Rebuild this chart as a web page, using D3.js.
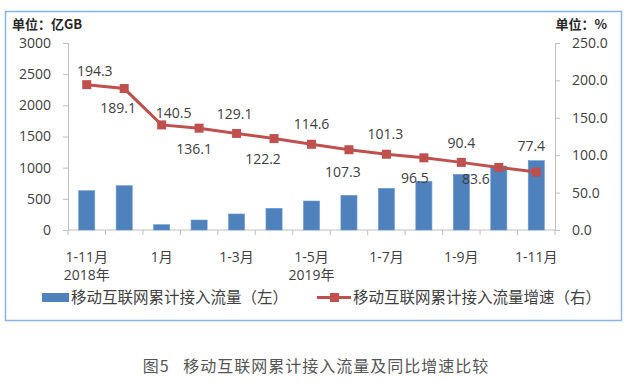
<!DOCTYPE html>
<html><head><meta charset="utf-8">
<script src="https://cdn.jsdelivr.net/npm/d3@7"></script>
<style>
html,body{margin:0;padding:0;background:#fff;}
svg{display:block;}
text{font-family:"Open Sans","Noto Sans CJK SC",sans-serif;fill:#404040;}
.cjk{font-family:"Noto Sans CJK SC",sans-serif;}
</style></head>
<body>
<script>
// ---- data ----
const categories = ["2018年1-11月","2018年1-12月","1月","1-2月","1-3月","1-4月","1-5月","1-6月","1-7月","1-8月","1-9月","1-10月","1-11月"];
const tickLabels = ["1-11月","","1月","","1-3月","","1-5月","","1-7月","","1-9月","","1-11月"];
const yearLabels = ["2018年","","","","","","2019年","","","","","",""];
const trafficValues = [630, 711, 85, 160, 257, 348, 465, 556, 669, 781, 893, 1027, 1112];
const growthValues = [194.3, 189.1, 140.5, 136.1, 129.1, 122.2, 114.6, 107.3, 101.3, 96.5, 90.4, 83.6, 77.4];
const seriesNames = ["移动互联网累计接入流量（左）","移动互联网累计接入流量增速（右）"];
// label nudges (layout only)
const labelDx = [8, -6, 12, -5, -2, -11, 0, -6, -1, -9, 0, -23, -5];
const labelDy = [-14, 19, -12, 21, -19, 20, -20, 22, -20, 20, -19, 12, -26];

const W = 628, H = 382;
const svg = d3.select("body").append("svg").attr("width", W).attr("height", H);
svg.append("rect").attr("width", W).attr("height", H).attr("fill", "#fff");
svg.append("rect").attr("x", 5.5).attr("y", 11.5).attr("width", 616).attr("height", 309)
  .attr("fill", "none").attr("stroke", "#8db3e2").attr("stroke-width", 1.5);

const pLeft = 68, pRight = 555, pTop = 43, pBottom = 230;
const x = d3.scaleBand().domain(categories).range([pLeft, pRight]).paddingInner(0.57).paddingOuter(0.285);
const xs = d3.scaleBand().domain(categories).range([pLeft, pRight]).padding(0);
const yL = d3.scaleLinear().domain([0, 3000]).range([pBottom, pTop]);
const yR = d3.scaleLinear().domain([0, 250]).range([pBottom, pTop]);

const axisColor = "#bfbfbf";
const gL = svg.append("g").attr("transform", `translate(${pLeft},0)`)
  .call(d3.axisLeft(yL).tickValues(d3.range(0, 3001, 500)).tickSize(5).tickPadding(12).tickFormat(d3.format("d")));
const gR = svg.append("g").attr("transform", `translate(${pRight},0)`)
  .call(d3.axisRight(yR).tickValues(d3.range(0, 251, 50)).tickSize(5).tickPadding(12).tickFormat(d3.format(".1f")));
[gL, gR].forEach(g => {
  g.select(".domain").attr("stroke", axisColor).attr("stroke-width", 1);
  g.selectAll(".tick line").attr("stroke", axisColor);
  g.selectAll(".tick text").attr("font-size", 14).attr("fill", "#404040").attr("font-family", "Open Sans");
});

// x axis
const gX = svg.append("g").attr("transform", `translate(0,${pBottom})`);
gX.append("line").attr("x1", pLeft).attr("x2", pRight).attr("stroke", axisColor);
const bounds = categories.map(c => xs(c)).concat([pRight]);
gX.selectAll("line.tk").data(bounds).join("line").attr("class", "tk")
  .attr("x1", d => d).attr("x2", d => d).attr("y1", 0).attr("y2", 5).attr("stroke", axisColor);
gX.selectAll("text.cat").data(categories).join("text").attr("class", "cat")
  .attr("x", d => xs(d) + xs.bandwidth() / 2).attr("y", 32).attr("text-anchor", "middle")
  .attr("font-size", 14).text((d, i) => tickLabels[i]);
gX.selectAll("text.yr").data(categories).join("text").attr("class", "yr")
  .attr("x", d => xs(d) + xs.bandwidth() / 2).attr("y", 50).attr("text-anchor", "middle")
  .attr("font-size", 14).text((d, i) => yearLabels[i]);

// bars
svg.append("g").selectAll("rect").data(trafficValues).join("rect")
  .attr("x", (d, i) => x(categories[i])).attr("width", x.bandwidth())
  .attr("y", d => yL(d)).attr("height", d => pBottom - yL(d))
  .attr("fill", "#4f81bd").attr("stroke", "#6a9ad4").attr("stroke-width", 0.6);

// line
const cx = i => xs(categories[i]) + xs.bandwidth() / 2;
const line = d3.line().x((d, i) => cx(i)).y(d => yR(d));
svg.append("path").datum(growthValues).attr("d", line).attr("fill", "none")
  .attr("stroke", "#c0504d").attr("stroke-width", 3);
svg.append("g").selectAll("rect").data(growthValues).join("rect")
  .attr("x", (d, i) => cx(i) - 4.5).attr("y", d => yR(d) - 4.5).attr("width", 9).attr("height", 9)
  .attr("fill", "#c0504d");
svg.append("g").selectAll("text").data(growthValues).join("text")
  .attr("x", (d, i) => cx(i) + labelDx[i]).attr("y", (d, i) => yR(d) + labelDy[i] + 5)
  .attr("text-anchor", "middle").attr("font-size", 14).text(d => d3.format(".1f")(d));

// unit labels
svg.append("text").attr("class", "cjk").attr("x", 12).attr("y", 29).attr("font-size", 13)
  .attr("font-weight", "bold").style("fill", "#262626").text("单位：亿GB");
svg.append("text").attr("class", "cjk").attr("x", 607).attr("y", 29).attr("font-size", 13)
  .attr("text-anchor", "end").attr("font-weight", "bold").style("fill", "#262626").text("单位：%");

// legend
const lg = svg.append("g");
lg.append("rect").attr("x", 42).attr("y", 293).attr("width", 27).attr("height", 9).attr("fill", "#4f81bd");
lg.append("text").attr("class", "cjk").attr("x", 71).attr("y", 303).attr("font-size", 15.5).text(seriesNames[0]);
lg.append("line").attr("x1", 317).attr("x2", 351).attr("y1", 297.5).attr("y2", 297.5)
  .attr("stroke", "#c0504d").attr("stroke-width", 3);
lg.append("rect").attr("x", 330).attr("y", 293).attr("width", 9).attr("height", 9).attr("fill", "#c0504d");
lg.append("text").attr("class", "cjk").attr("x", 353).attr("y", 303).attr("font-size", 15.5).text(seriesNames[1]);

// caption
svg.append("text").attr("class", "cjk").attr("x", 316).attr("y", 372).attr("text-anchor", "middle")
  .attr("font-size", 16).attr("letter-spacing", 1).style("fill", "#555").style("white-space", "pre")
  .text("图5   移动互联网累计接入流量及同比增速比较");
</script>
</body></html>
